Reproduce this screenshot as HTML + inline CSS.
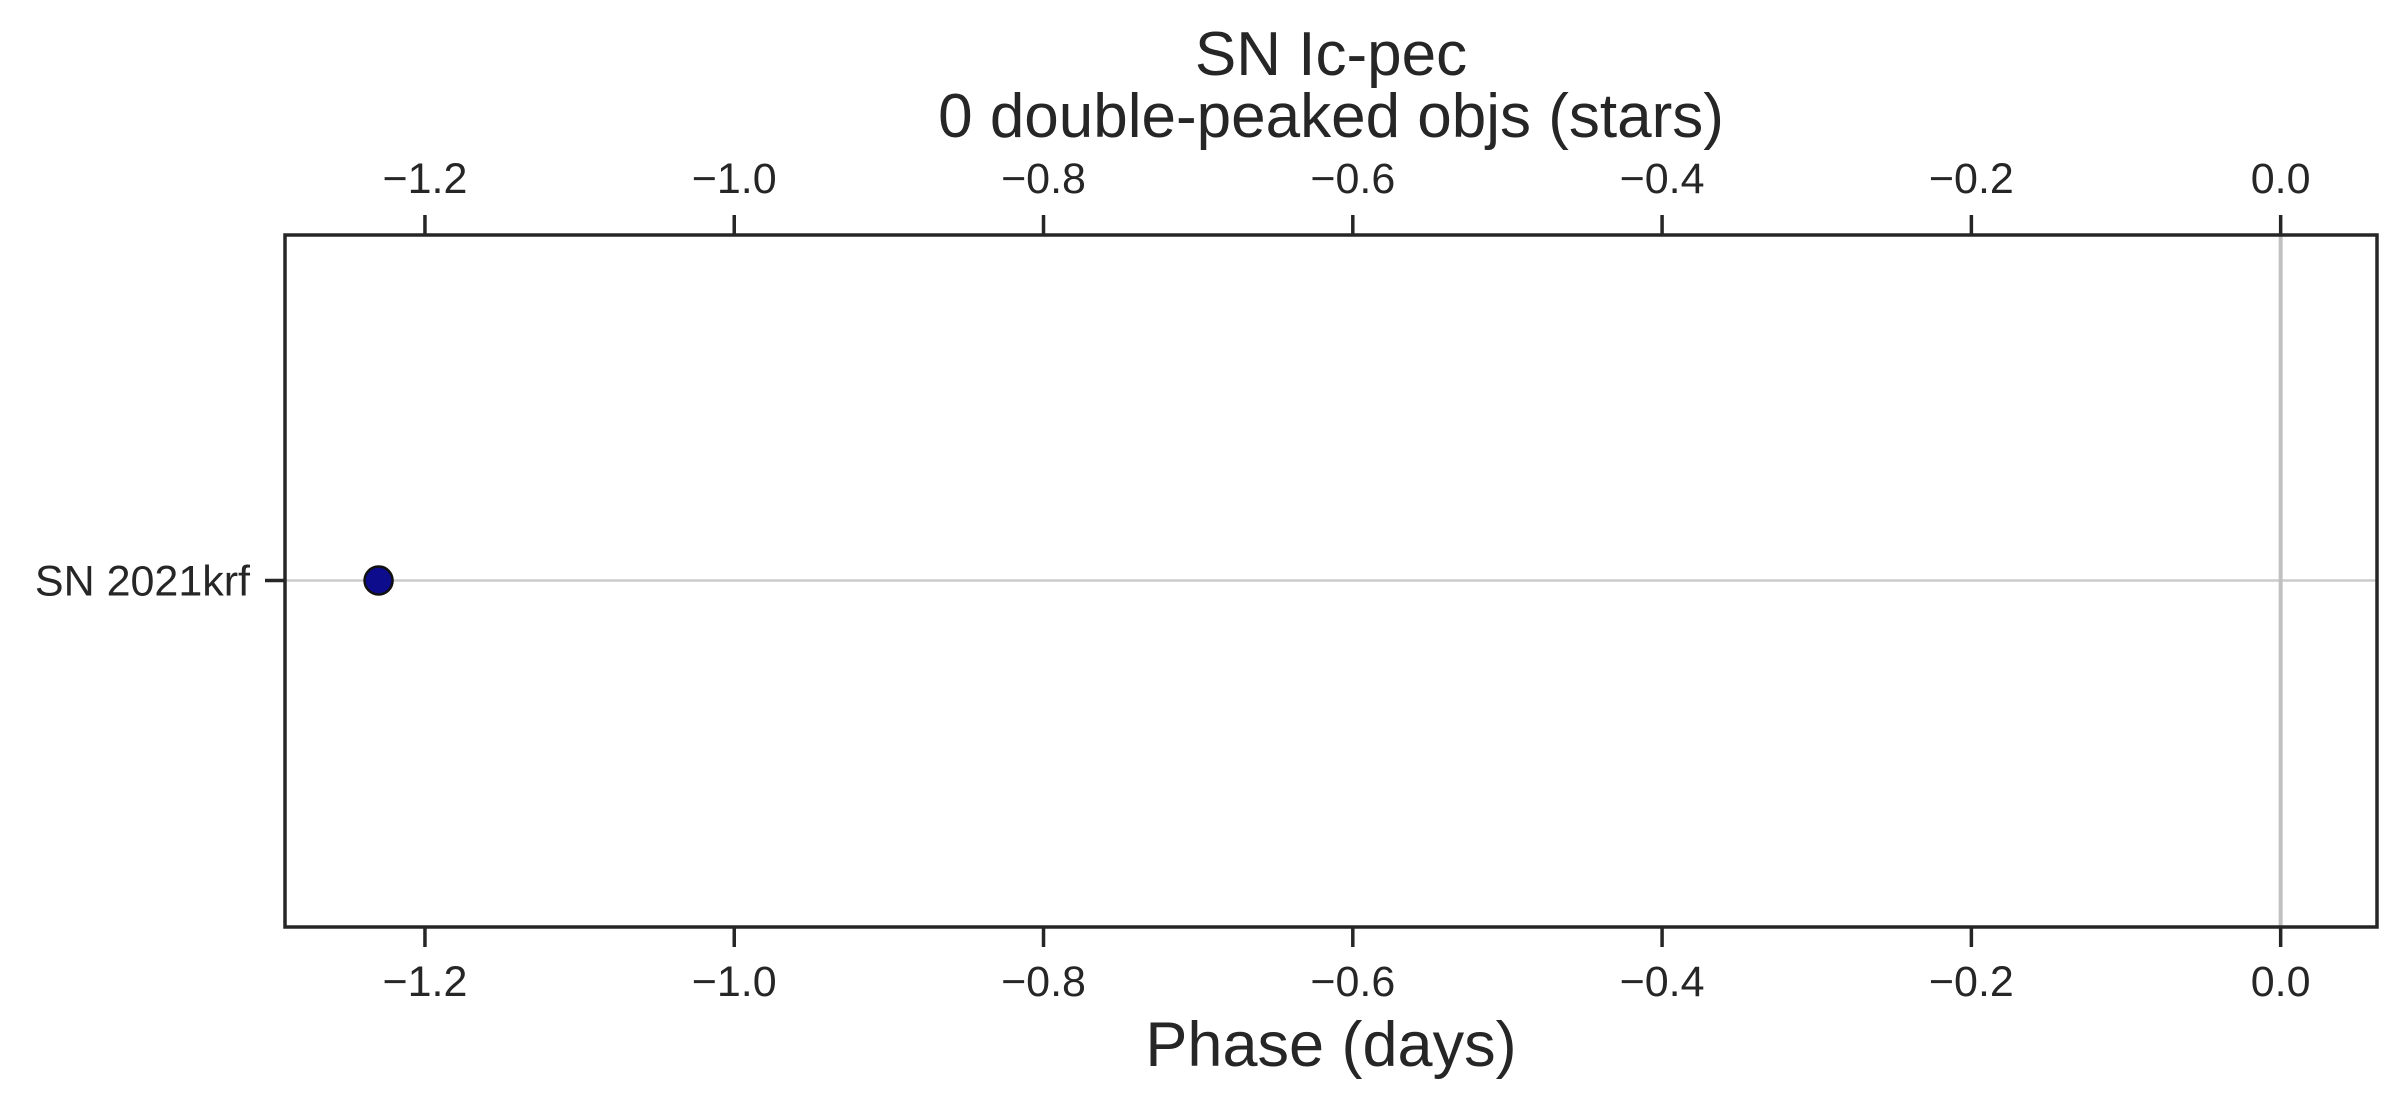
<!DOCTYPE html>
<html><head><meta charset="utf-8"><style>
html,body{margin:0;padding:0;background:#fff;}
svg{display:block;font-family:"Liberation Sans",sans-serif;}
</style></head><body>
<svg id="chart" width="2407" height="1108" viewBox="0 0 2407 1108" xmlns="http://www.w3.org/2000/svg">
<rect x="0" y="0" width="2407" height="1108" fill="#fff"/>
<text x="1331" y="75" font-size="62" fill="#262626" text-anchor="middle">SN Ic-pec</text>
<text x="1331" y="137" font-size="62" fill="#262626" text-anchor="middle">0 double-peaked objs (stars)</text>
<text x="1331" y="1066" font-size="63" fill="#262626" text-anchor="middle">Phase (days)</text>
<g id="plot"></g>
</svg>
<script>
const categories = ["SN 2021krf"];
const phases = [-1.23];
const xTicks = [-1.2, -1.0, -0.8, -0.6, -0.4, -0.2, 0.0];
const xTickLabels = ["\u22121.2", "\u22121.0", "\u22120.8", "\u22120.6", "\u22120.4", "\u22120.2", "0.0"];

const L = 285, R = 2377, T = 235, B = 927;
const xMin = -1.2905, xMax = 0.0623;
const xs = v => L + (v - xMin) / (xMax - xMin) * (R - L);
const ys = i => T + (i + 0.5) / categories.length * (B - T) - 0.5;
const NS = "http://www.w3.org/2000/svg";
const g = document.getElementById('plot');
function mk(tag, attrs, parent) {
  const e = document.createElementNS(NS, tag);
  for (const k in attrs) e.setAttribute(k, attrs[k]);
  (parent || g).appendChild(e);
  return e;
}
categories.forEach((c, i) => {
  const l = mk('line', {x1: L, x2: R, y1: ys(i), y2: ys(i), stroke: '#cccccc', 'stroke-width': 2.5});
  
  
});
const z = mk('line', {x1: xs(0), x2: xs(0), y1: T, y2: B, stroke: '#c0c0c0', 'stroke-width': 4});


xTicks.forEach((v, i) => {
  const x = xs(v);
  const t1 = mk('line', {x1: x, x2: x, y1: T - 20, y2: T, stroke: '#262626', 'stroke-width': 3.5});
  
  
  const t2 = mk('line', {x1: x, x2: x, y1: B, y2: B + 20, stroke: '#262626', 'stroke-width': 3.5});
  
  
  const a = mk('text', {x: x, y: 193, 'font-size': 43, fill: '#262626', 'text-anchor': 'middle'});
  a.textContent = xTickLabels[i];
  
  
  const b = mk('text', {x: x, y: 996, 'font-size': 43, fill: '#262626', 'text-anchor': 'middle'});
  b.textContent = xTickLabels[i];
  
  
});
categories.forEach((c, i) => {
  const y = ys(i);
  const t = mk('line', {x1: L - 20, x2: L, y1: y, y2: y, stroke: '#262626', 'stroke-width': 3.5});
  
  
  const lb = mk('text', {x: 250, y: y + 15, 'font-size': 43, fill: '#262626', 'text-anchor': 'end'});
  lb.textContent = c;
  
  
  const p = mk('circle', {cx: xs(phases[i]), cy: y, r: 14, fill: '#0c0c8c', stroke: '#111', 'stroke-width': 2.5});
  
  
});
const fr = mk('rect', {x: L, y: T, width: R - L, height: B - T, fill: 'none', stroke: '#262626', 'stroke-width': 3.5});


</script>
</body></html>
